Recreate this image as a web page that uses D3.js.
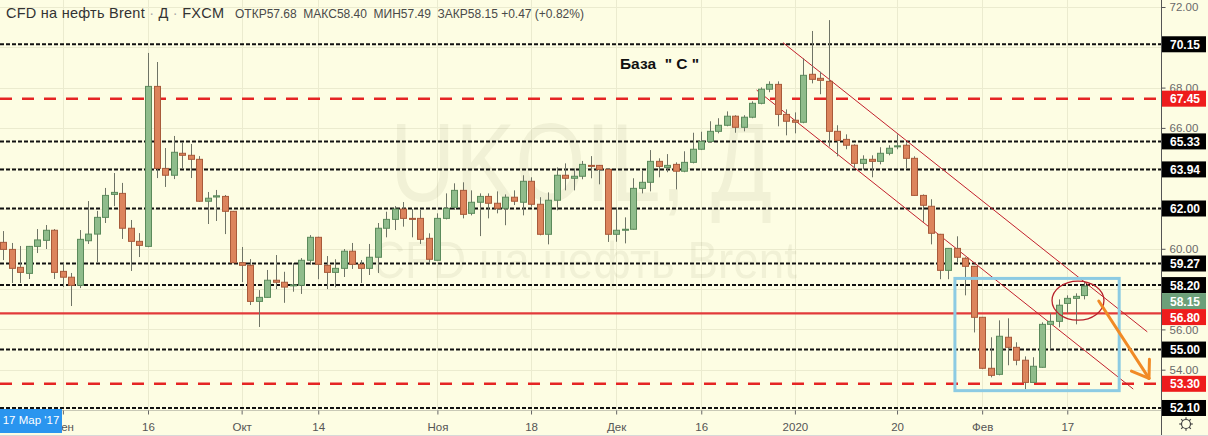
<!DOCTYPE html>
<html><head><meta charset="utf-8">
<script src="https://cdn.jsdelivr.net/npm/d3@7"></script>
<style>html,body{margin:0;padding:0;background:#fdfde3;overflow:hidden}</style>
</head><body><svg id="c" width="1208" height="436"></svg>
<script>
// ---------- DATA ----------
const dates = [
"2019-08-22","2019-08-23","2019-08-26","2019-08-27","2019-08-28","2019-08-29","2019-08-30",
"2019-09-02","2019-09-03","2019-09-04","2019-09-05","2019-09-06","2019-09-09","2019-09-10","2019-09-11","2019-09-12","2019-09-13",
"2019-09-16","2019-09-17","2019-09-18","2019-09-19","2019-09-20","2019-09-23","2019-09-24","2019-09-25","2019-09-26","2019-09-27","2019-09-30",
"2019-10-01","2019-10-02","2019-10-03","2019-10-04","2019-10-07","2019-10-08","2019-10-09","2019-10-10","2019-10-11",
"2019-10-14","2019-10-15","2019-10-16","2019-10-17","2019-10-18","2019-10-21","2019-10-22","2019-10-23","2019-10-24","2019-10-25",
"2019-10-28","2019-10-29","2019-10-30","2019-10-31",
"2019-11-01","2019-11-04","2019-11-05","2019-11-06","2019-11-07","2019-11-08","2019-11-11","2019-11-12","2019-11-13","2019-11-14","2019-11-15",
"2019-11-18","2019-11-19","2019-11-20","2019-11-21","2019-11-22","2019-11-25","2019-11-26","2019-11-27","2019-11-28","2019-11-29",
"2019-12-02","2019-12-03","2019-12-04","2019-12-05","2019-12-06","2019-12-09","2019-12-10","2019-12-11","2019-12-12","2019-12-13",
"2019-12-16","2019-12-17","2019-12-18","2019-12-19","2019-12-20","2019-12-23","2019-12-24","2019-12-26","2019-12-27","2019-12-30","2019-12-31",
"2020-01-02","2020-01-03","2020-01-06","2020-01-07","2020-01-08","2020-01-09","2020-01-10","2020-01-13","2020-01-14","2020-01-15","2020-01-16","2020-01-17",
"2020-01-20","2020-01-21","2020-01-22","2020-01-23","2020-01-24","2020-01-27","2020-01-28","2020-01-29","2020-01-30","2020-01-31",
"2020-02-03","2020-02-04","2020-02-05","2020-02-06","2020-02-07","2020-02-10","2020-02-11","2020-02-12","2020-02-13","2020-02-14",
"2020-02-17","2020-02-18","2020-02-19"
];
const opens = [
60.32,59.97,59.08,58.78,60.12,60.42,60.92,58.88,58.59,58.19,
60.40,60.73,61.56,62.70,62.75,61.02,60.37,60.12,68.06,63.99,
63.65,64.74,64.64,64.44,62.36,62.57,62.60,61.86,59.31,59.18,
57.39,57.59,58.44,58.34,58.19,58.19,59.43,60.57,59.18,58.83,
59.03,59.88,59.23,59.03,59.58,61.02,61.46,61.97,61.51,61.51,
60.52,59.43,61.51,62.06,62.90,61.76,62.31,62.60,62.26,62.01,
62.56,62.31,63.35,62.21,60.72,62.41,63.65,63.50,63.60,64.14,
64.14,63.94,60.72,60.92,60.97,63.00,63.30,64.34,64.04,64.19,
63.85,64.29,64.94,65.33,65.83,66.13,66.58,66.03,66.53,67.22,
67.92,68.16,66.67,66.38,66.28,68.66,68.46,68.31,65.83,65.43,
65.14,64.24,64.44,64.34,64.74,65.09,65.14,64.49,62.65,62.11,
60.72,58.93,60.02,59.53,59.13,56.60,54.07,53.77,55.61,55.11,
54.47,53.37,54.12,56.25,56.40,57.29,57.54,57.68];
const highs = [
60.88,60.29,60.14,60.14,60.98,61.18,60.98,59.29,58.80,60.93,
62.37,61.88,63.02,63.76,63.27,61.43,60.78,69.72,69.27,65.00,
65.60,65.30,65.20,64.60,62.82,62.92,62.67,61.88,60.09,59.49,
57.95,58.95,59.69,58.86,59.29,59.54,60.68,60.60,59.64,59.48,
59.99,60.29,59.44,60.24,61.28,61.84,62.12,62.32,61.97,61.93,
60.77,61.76,62.75,63.25,63.30,62.90,62.75,62.75,62.85,62.70,
62.90,63.65,63.55,62.56,62.80,64.04,64.24,63.99,64.36,64.60,
64.16,63.96,62.06,61.56,63.50,63.90,64.90,64.49,64.70,64.29,
64.84,65.76,65.81,66.33,66.48,66.82,66.63,66.63,67.32,68.01,
68.31,68.31,66.92,66.77,69.45,70.81,68.79,71.35,66.13,65.68,
65.19,64.64,64.64,65.04,65.14,65.68,65.24,64.59,62.70,62.46,
60.74,60.04,60.62,59.58,59.15,56.62,55.61,56.45,56.55,55.36,
54.66,54.62,56.35,56.80,57.49,57.69,57.79,58.40];
const lows = [
59.44,58.30,58.30,58.50,59.79,59.99,58.50,58.10,57.16,58.05,
60.24,59.34,61.28,62.12,60.49,58.90,59.59,60.08,63.51,63.07,
63.46,64.01,63.51,62.33,61.23,61.38,60.73,59.29,58.35,57.21,
56.12,57.57,58.00,57.32,57.87,57.76,59.20,58.49,58.00,58.09,
58.60,59.00,58.30,58.70,58.80,60.57,60.93,61.10,60.57,60.24,
59.28,59.41,61.46,61.93,61.51,61.66,60.63,61.51,61.76,61.17,
62.17,61.66,62.09,60.67,60.22,61.91,62.90,62.90,63.45,63.50,
63.20,60.34,60.35,60.27,60.95,62.75,62.85,63.55,63.80,62.95,
63.80,64.24,64.90,65.28,65.73,66.08,65.76,65.83,66.48,67.17,
67.77,66.08,65.63,65.73,66.23,68.21,67.67,65.07,64.59,64.94,
63.99,63.94,63.55,64.19,64.64,64.94,63.99,62.63,61.34,60.22,
58.49,58.49,59.33,57.69,55.85,54.03,53.62,53.72,54.22,54.22,
53.03,53.35,54.10,55.01,56.10,56.80,56.25,57.49];
const closes = [
59.97,59.03,58.83,60.12,60.44,60.92,58.83,58.59,58.19,60.47,
60.73,61.56,62.65,62.80,61.02,60.37,60.17,68.06,63.99,63.65,
64.79,64.64,64.44,62.36,62.51,62.63,61.86,59.31,59.18,57.39,
57.59,58.44,58.34,58.10,58.21,59.43,60.57,59.23,58.83,59.03,
59.88,59.23,59.03,59.58,61.02,61.46,61.97,61.51,61.50,60.47,
59.48,61.51,62.01,62.90,61.71,62.31,62.60,62.26,62.01,62.56,
62.36,63.35,62.21,60.72,62.41,63.65,63.50,63.60,64.19,64.13,
63.94,60.72,60.92,60.97,63.00,63.30,64.34,64.09,64.14,63.85,
64.29,64.94,65.33,65.83,66.13,66.58,66.03,66.53,67.22,67.92,
68.16,66.67,66.33,66.28,68.61,68.41,68.36,65.83,65.38,65.14,
64.24,64.44,64.34,64.74,64.99,65.11,64.49,62.65,62.16,60.77,
58.93,60.02,59.58,59.13,56.60,54.07,53.72,55.66,55.11,54.47,
53.37,54.17,56.25,56.40,57.20,57.54,57.64,58.15];

const timeTickDates = ["2019-09-02","2019-09-16","2019-10-01","2019-10-14","2019-11-01","2019-11-18","2019-12-02","2019-12-16","2020-01-02","2020-01-20","2020-02-03","2020-02-17"];
const timeTickLabels = ["Сен","16","Окт","14","Ноя","18","Дек","16","2020","20","Фев","17"];
const priceTicks = [72,70,68,66,64,62,60,58,56,54,52];
const blackLevels = [70.15,65.33,63.94,62.00,59.27,58.20,55.00,52.10];
const redDashLevels = [67.45,53.30];
const redSolidLevels = [56.80];
const lastPrice = 58.15;
// annotations in (bar index, price)
const channelUpper = [[91.6,70.23],[134.4,55.88]];
const channelLower = [[88.5,67.88],[132.75,53.04]];
const zoneBox = [[111.8,58.53],[131.1,52.96]];
const circleMark = [126.26,57.43,3.05,0.97]; // center idx, center price, radius idx, radius price
const arrowMark = [[128.7,57.41],[134.6,53.57]];
const noteText = 'База  " С "';
const notePos = [72.45,68.92];
const titleMain = ["CFD на нефть Brent","Д","FXCM"];
const titleOHLC = "ОТКР57.68  МАКС58.40  МИН57.49  ЗАКР58.15 +0.47 (+0.82%)";
const badgeText = "17 Мар '17";
const watermark1 = "UKOIL, Д";
const watermark2 = "CFD на нефть Brent";

// ---------- DRAW ----------
const W=1208,H=436,plotR=1161,plotB=410;
const BG="#fdfde3";
const svg=d3.select("#c");
const x=d3.scaleLinear().domain([0,136]).range([3.3,1160.9]);
const y=d3.scaleLinear().domain([52,72]).range([410,7]);
const idxOf=new Map(dates.map((d,i)=>[d,i]));
const bars=dates.map((d,i)=>({i,d,o:opens[i],h:highs[i],l:lows[i],c:closes[i]}));

svg.append("rect").attr("width",W).attr("height",H).attr("fill",BG);
const plot=svg.append("g");
plot.append("defs").append("clipPath").attr("id","pc").append("rect").attr("width",plotR).attr("height",plotB);
const pg=plot.append("g").attr("clip-path","url(#pc)");

// grid
pg.selectAll(".vg").data(timeTickDates).join("line")
 .attr("x1",d=>Math.round(x(idxOf.get(d)))+0.5).attr("x2",d=>Math.round(x(idxOf.get(d)))+0.5)
 .attr("y1",0).attr("y2",plotB).attr("stroke","#ebebcf").attr("stroke-width",1);
pg.selectAll(".hg").data(priceTicks).join("line")
 .attr("x1",0).attr("x2",plotR).attr("y1",d=>Math.round(y(d))+0.5).attr("y2",d=>Math.round(y(d))+0.5)
 .attr("stroke","#ebebcf").attr("stroke-width",1);

// watermark
pg.append("text").text(watermark1).attr("x",390).attr("y",201).attr("font-family","Liberation Sans, Arial").attr("font-size",112)
 .attr("textLength",382).attr("lengthAdjust","spacingAndGlyphs").attr("fill","rgba(90,90,40,0.07)");
pg.append("text").text(watermark2).attr("x",372).attr("y",278).attr("font-family","Liberation Sans, Arial").attr("font-size",52)
 .attr("textLength",425).attr("lengthAdjust","spacingAndGlyphs").attr("fill","rgba(90,90,40,0.07)");

// levels
const lvl=(arr,stroke,w,dash)=>pg.append("g").selectAll("line").data(arr).join("line")
 .attr("x1",0).attr("x2",plotR).attr("y1",d=>y(d)).attr("y2",d=>y(d))
 .attr("stroke",stroke).attr("stroke-width",w).attr("stroke-dasharray",dash);
lvl(blackLevels,"#111",2,"4,2");
lvl(redDashLevels,"#e52424",2.5,"12,10");
lvl(redSolidLevels,"#e23a3a",2.2,null);

// channel
[channelUpper,channelLower].forEach(c=>{
 pg.append("line").attr("x1",x(c[0][0])).attr("y1",y(c[0][1])).attr("x2",x(c[1][0])).attr("y2",y(c[1][1]))
  .attr("stroke","#c2202c").attr("stroke-width",1);
});

// candles
const cg=pg.append("g");
cg.selectAll("line").data(bars).join("line")
 .attr("x1",d=>Math.round(x(d.i))+0.5).attr("x2",d=>Math.round(x(d.i))+0.5)
 .attr("y1",d=>y(d.h)).attr("y2",d=>y(d.l)).attr("stroke","#6f7466").attr("stroke-width",1);
cg.selectAll("rect").data(bars).join("rect")
 .attr("x",d=>Math.round(x(d.i))-3+0.5).attr("width",6)
 .attr("y",d=>y(Math.max(d.o,d.c))).attr("height",d=>Math.max(1,Math.abs(y(d.o)-y(d.c))))
 .attr("fill",d=>d.c>=d.o?"#8fbc8b":"#dc845c")
 .attr("stroke",d=>d.c>=d.o?"#5b8a5b":"#a85a3a").attr("stroke-width",1);

// zone box
pg.append("rect").attr("x",x(zoneBox[0][0])).attr("y",y(zoneBox[0][1]))
 .attr("width",x(zoneBox[1][0])-x(zoneBox[0][0])).attr("height",y(zoneBox[1][1])-y(zoneBox[0][1]))
 .attr("fill","none").attr("stroke","#8ccbe3").attr("stroke-width",3);
// ellipse
pg.append("ellipse").attr("cx",x(circleMark[0])).attr("cy",y(circleMark[1]))
 .attr("rx",x(circleMark[0]+circleMark[2])-x(circleMark[0])).attr("ry",y(circleMark[1]-circleMark[3])-y(circleMark[1]))
 .attr("fill","none").attr("stroke","#b8222c").attr("stroke-width",1.3);
// arrow
{
 const x1=x(arrowMark[0][0]),y1=y(arrowMark[0][1]),x2=x(arrowMark[1][0]),y2=y(arrowMark[1][1]);
 const a=Math.atan2(y1-y2,x1-x2),L=19,s=0.6;
 const g=pg.append("g").attr("stroke","#f18a25").attr("stroke-width",3).attr("stroke-linecap","round");
 g.append("line").attr("x1",x1).attr("y1",y1).attr("x2",x2).attr("y2",y2);
 g.append("line").attr("x1",x2).attr("y1",y2).attr("x2",x2+L*Math.cos(a+s)).attr("y2",y2+L*Math.sin(a+s));
 g.append("line").attr("x1",x2).attr("y1",y2).attr("x2",x2+L*Math.cos(a-s)).attr("y2",y2+L*Math.sin(a-s));
}
// note
pg.append("text").text(noteText).attr("x",x(notePos[0])).attr("y",y(notePos[1]))
 .attr("font-family","Liberation Sans, Arial").attr("font-weight","bold").attr("font-size",15.5).attr("fill","#111")
 .style("white-space","pre").attr("xml:space","preserve");

// title
const t=svg.append("text").attr("x",6).attr("y",18).attr("font-family","Liberation Sans, Arial").attr("font-size",14.5)
 .attr("fill","#333").attr("textLength",218).attr("lengthAdjust","spacing");
titleMain.forEach((s,k)=>{
 if(k>0) t.append("tspan").text(" · ").attr("fill","#aaa");
 t.append("tspan").text(s);
});
svg.append("text").text(titleOHLC).attr("x",235).attr("y",18).attr("font-family","Liberation Sans, Arial")
 .attr("font-size",12).attr("fill","#4a4a4a").attr("xml:space","preserve");

// price labels with collision handling
const labels=[
 ...blackLevels.map(v=>({v,bg:"#000"})),
 ...redDashLevels.map(v=>({v,bg:"#ee1c1c"})),
 ...redSolidLevels.map(v=>({v,bg:"#ee1c1c"})),
 {v:lastPrice,bg:"#6c9f79"}
].sort((a,b)=>b.v-a.v);
let prevY=-100;const BH=16;
labels.forEach(l=>{let yy=y(l.v);if(yy<prevY+BH)yy=prevY+BH;l.y=yy;prevY=yy;});

// right axis (tick labels hidden where a level label covers them)
svg.append("line").attr("x1",plotR+0.5).attr("x2",plotR+0.5).attr("y1",0).attr("y2",H).attr("stroke","#555").attr("stroke-width",1);
const visibleTicks=priceTicks.filter(v=>labels.every(l=>Math.abs(l.y-y(v))>BH/2+3));
const ya=svg.append("g").attr("transform",`translate(${plotR+0.5},0)`)
 .call(d3.axisRight(y).tickValues(visibleTicks).tickFormat(d3.format(".2f")).tickSize(4).tickPadding(4));
ya.select(".domain").remove();
ya.selectAll("line").attr("stroke","#555");
ya.selectAll("text").attr("font-family","Liberation Sans, Arial").attr("font-size",11.5).attr("fill","#6a6a6a");

const lg=svg.append("g");
lg.selectAll("rect").data(labels).join("rect").attr("x",plotR+1).attr("y",d=>d.y-BH/2).attr("width",44).attr("height",BH).attr("fill",d=>d.bg);
lg.selectAll("text").data(labels).join("text").text(d=>d3.format(".2f")(d.v))
 .attr("x",plotR+9).attr("y",d=>d.y+4.5).attr("font-family","Liberation Sans, Arial").attr("font-weight","bold")
 .attr("font-size",12).attr("fill","#fff");

// bottom axis
svg.append("line").attr("x1",0).attr("x2",plotR).attr("y1",plotB+0.5).attr("y2",plotB+0.5).attr("stroke","#c9c9b6");
svg.append("line").attr("x1",0).attr("x2",W).attr("y1",H-0.5).attr("y2",H-0.5).attr("stroke","#d8d8d8");
const tickMap=new Map(timeTickDates.map((d,k)=>[idxOf.get(d),timeTickLabels[k]]));
const xa=svg.append("g").attr("transform",`translate(0,${plotB+0.5})`)
 .call(d3.axisBottom(x).tickValues(timeTickDates.map(d=>idxOf.get(d))).tickFormat(i=>tickMap.get(i)).tickSize(4).tickPadding(8));
xa.select(".domain").remove();
xa.selectAll("line").attr("stroke","#666");
xa.selectAll("text").attr("font-family","Liberation Sans, Arial").attr("font-size",11.5).attr("fill","#555");

// badge
svg.append("rect").attr("x",0).attr("y",409).attr("width",62).attr("height",24).attr("fill","#2a95ef");
svg.append("text").text(badgeText).attr("x",31).attr("y",424).attr("text-anchor","middle")
 .attr("font-family","Liberation Sans, Arial").attr("font-size",11.5).attr("fill","#fff");

// gear icon
{
 const g=svg.append("g").attr("transform","translate(1186,424)").attr("stroke","#444").attr("fill","none").attr("stroke-width",1.2);
 g.append("circle").attr("r",4.5);
 d3.range(8).forEach(k=>{const a=k*Math.PI/4;g.append("line").attr("x1",4.5*Math.cos(a)).attr("y1",4.5*Math.sin(a)).attr("x2",6.8*Math.cos(a)).attr("y2",6.8*Math.sin(a));});
}
</script></body></html>
